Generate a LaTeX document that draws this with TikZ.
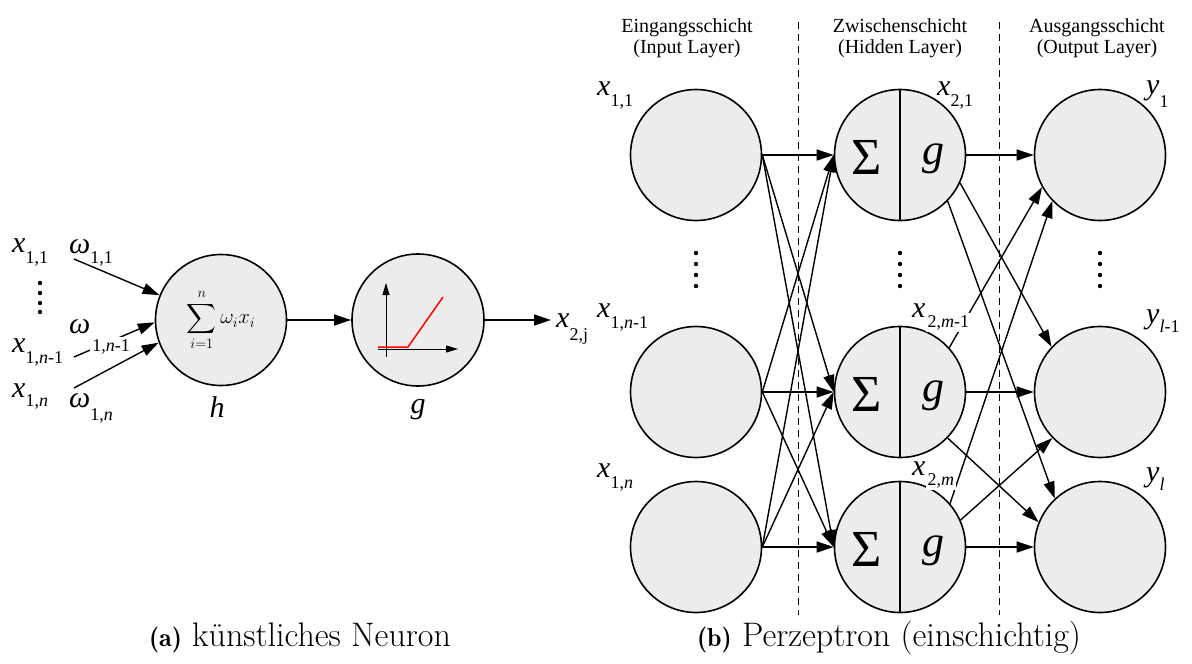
\documentclass[tikz,border=0pt]{standalone}
\usepackage{exscale}
\usepackage{fontspec}
\setmainfont{Liberation Serif}[ItalicFont={Liberation Serif Italic}]
\newfontfamily\tfont{Liberation Serif}[ItalicFont={Liberation Serif Italic}]
\usetikzlibrary{arrows.meta}

% variable with subscript, optional drop of the subscript
\newcommand{\vlab}[3][-11pt]{\textit{#2}\raisebox{#1}{\fontsize{18}{18}\selectfont #3}}
% same, subscript on a white patch that hides lines behind it
\newcommand{\vlabm}[3][-11pt]{\textit{#2}\raisebox{#1}{\fontsize{18}{18}\selectfont\fboxsep=2pt\colorbox{white}{#3}}}

\tikzset{
  neuron/.style={circle, draw, line width=1.6pt, fill=gray!15, minimum size=131pt, inner sep=0pt},
  conn/.style={line width=1.4pt, -{Triangle[length=17pt,width=11pt]}},
  axis/.style={line width=0.9pt, -{Triangle[length=12pt,width=7pt]}},
  sepline/.style={line width=1pt, dash pattern=on 7pt off 5pt},
  divider/.style={line width=1.1pt},
  varlbl/.style={font=\tfont\fontsize{30}{36}\selectfont, inner sep=0pt, anchor=base west},
  headlbl/.style={font=\tfont\fontsize{20}{21}\selectfont, align=center},
  caplbl/.style={font=\fontfamily{lmr}\fontsize{34}{38}\selectfont},
}

\begin{document}
\begin{tikzpicture}[x=1pt,y=-1pt]
\useasboundingbox (0,0) rectangle (1192,664);

% Draw layer separators
\draw[sepline] (798,22) -- (798,615);
\draw[sepline] (999,22) -- (999,615);

% Draw the single neuron
\node[neuron, font=\fontsize{20}{24}\selectfont] (sumnode) at (221,320) {$\displaystyle\sum_{i=1}^{n}\omega_i x_i$};
\node[neuron, minimum size=132pt] (actnode) at (418,320) {};
% Draw activation function
\draw[axis] (386,357) -- (386,283);
\draw[axis] (378,349) -- (458,349);
\draw[red, line width=1.5pt] (378,347) -- (408,347) -- (443,297);

% Draw weighted inputs
\coordinate (inA) at (74,259);
\coordinate (inB) at (74,357);
\coordinate (inC) at (74,388);
\coordinate (outA) at (551,320);
\draw[conn] (inA) -- (sumnode.158);
\draw[conn] (inB) -- (sumnode.182);
\draw[conn] (inC) -- (sumnode.200);
\draw[conn] (sumnode) -- (actnode);
\draw[conn] (actnode) -- (outA);

% Add labels of the single neuron
\node[varlbl] at (12,252) {\vlab{x}{1,1}};
\node[varlbl] at (12,352) {\vlab{x}{1,\textit{n}-1}};
\node[varlbl] at (12,397) {\vlab[-9pt]{x}{1,\textit{n}}};
\node[varlbl] at (69,253) {\vlab[-10pt]{ω}{1,1}};
\node[varlbl] at (69,333) {\vlabm[-18pt]{ω}{1,\textit{n}-1}};
\node[varlbl] at (69,407) {\vlab[-13pt]{ω}{1,\textit{n}}};
\node[varlbl] at (556,327) {\vlab[-13pt]{x}{2,j}};
\node[varlbl, anchor=base] at (217,417) {\textit{h}};
\node[varlbl, anchor=base] at (418,413) {\textit{g}};
\foreach \yy in {283,293,303,312}
  \fill (40,\yy) circle (2.2pt);

% Draw the three layers
\foreach \name/\yy in {1/155,2/392,3/547} {
  \node[neuron] (in\name) at (696,\yy) {};
  \node[neuron] (hid\name) at (900,\yy) {};
  \node[neuron] (out\name) at (1100,\yy) {};
  \draw[divider] (hid\name.north) -- (hid\name.south);
  \node[font=\tfont\fontsize{52}{52}\selectfont, inner sep=0pt] at (867,\yy+2) {Σ};
  \node[font=\tfont\fontsize{44}{44}\selectfont, inner sep=0pt] at (933,\yy+4) {\textit{g}};
}
% Draw vertical dots
\foreach \xx in {696,900,1100}
  \foreach \yy in {253,264,275,286}
    \fill (\xx,\yy) circle (2.2pt);

% Draw connections input to hidden
\foreach \i in {1,2,3}
  \foreach \j in {1,2,3}
    \draw[conn] (in\i.east) -- (hid\j.west);
% Draw connections hidden to output
\foreach \src/\dst in {hid1.east/out1.west, hid1.-25/out2.137, hid1.-44/out3.133,
                       hid2.42/out1.209, hid2.east/out2.west, hid2.-44/out3.158,
                       hid3.41/out1.224, hid3.24/out2.224, hid3.east/out3.west}
  \draw[conn] (\src) -- (\dst);

% Add layer headings
\node[headlbl] at (687,38) {Eingangsschicht\\(Input Layer)};
\node[headlbl] at (900,38) {Zwischenschicht\\(Hidden Layer)};
\node[headlbl] at (1097,38) {Ausgangsschicht\\(Output Layer)};

% Add neuron labels
\node[varlbl] at (597,95) {\vlab{x}{1,1}};
\node[varlbl] at (597,317) {\vlab{x}{1,\textit{n}-1}};
\node[varlbl] at (597,477) {\vlab{x}{1,\textit{n}}};
\node[varlbl] at (937,95) {\vlab{x}{2,1}};
\node[varlbl] at (912,317) {\vlabm[-10pt]{x}{2,\textit{m}-1}};
\node[varlbl] at (912,475) {\vlabm[-10pt]{x}{2,\textit{m}}};
\node[varlbl] at (1146,94) {\vlab[-13pt]{y}{1}};
\node[varlbl] at (1146,323) {\vlab[-9pt]{y}{\textit{l}-1}};
\node[varlbl] at (1146,481) {\vlab[-9pt]{y}{\textit{l}}};

% Add captions
\node[caplbl] at (300,638) {{\fontsize{26}{26}\selectfont\bfseries (a)} künstliches Neuron};
\node[caplbl] at (889,638) {{\fontsize{26}{26}\selectfont\bfseries (b)} Perzeptron (einschichtig)};
\end{tikzpicture}
\end{document}
